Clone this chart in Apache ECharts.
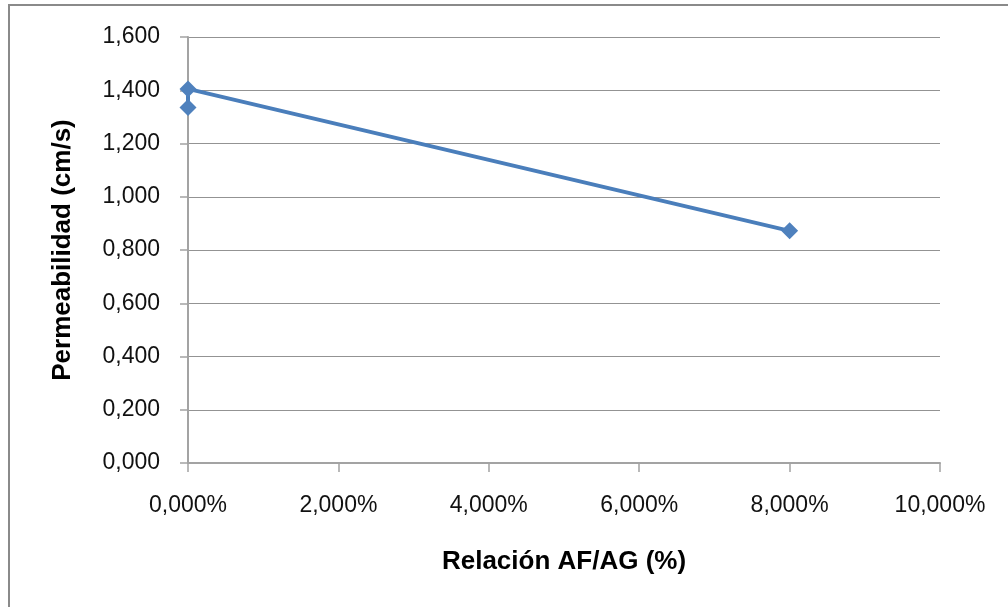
<!DOCTYPE html>
<html>
<head>
<meta charset="utf-8">
<script src="https://cdn.jsdelivr.net/npm/echarts@6/dist/echarts.min.js"></script>
<style>
html,body{margin:0;padding:0;background:#fff;}
#chart{width:1008px;height:607px;}
</style>
</head>
<body>
<div id="chart"></div>
<script>
const xValues = [0, 0, 8];
const yValues = [1.335, 1.405, 0.872];
const xTitle = 'Relación AF/AG (%)';
const yTitle = 'Permeabilidad (cm/s)';

const fmt = v => v.toFixed(3).replace('.', ',');
const chart = echarts.init(document.getElementById('chart'), null, {renderer: 'canvas'});
const gridColor = '#939393';
const axisColor = '#a3a3a3';
chart.setOption({
  animation: false,
  backgroundColor: '#fff',
  graphic: [{
    type: 'rect',
    shape: {x: 9, y: 5, width: 1010, height: 620},
    style: {fill: 'none', stroke: '#8a8a8a', lineWidth: 2},
    silent: true
  }],
  grid: {left: 188, right: 68, top: 37, bottom: 144},
  xAxis: {
    type: 'value', min: 0, max: 10, interval: 2,
    name: xTitle, nameLocation: 'middle', nameGap: 86,
    nameTextStyle: {fontFamily: 'Liberation Sans', fontWeight: 'bold', fontSize: 26, color: '#000'},
    axisLine: {show: true, lineStyle: {color: axisColor, width: 2}},
    axisTick: {show: true, length: 9, inside: false, lineStyle: {color: axisColor, width: 1.5}},
    axisLabel: {margin: 31, fontFamily: 'Liberation Sans', fontSize: 23, color: '#111',
      formatter: v => fmt(v) + '%'},
    splitLine: {show: false}
  },
  yAxis: {
    type: 'value', min: 0, max: 1.6, interval: 0.2,
    name: yTitle, nameLocation: 'middle', nameGap: 112, nameRotate: 90,
    nameTextStyle: {fontFamily: 'Liberation Sans', fontWeight: 'bold', fontSize: 26, color: '#000'},
    axisLine: {show: true, lineStyle: {color: axisColor, width: 2}},
    axisTick: {show: true, length: 8, inside: false, lineStyle: {color: axisColor, width: 1.5}},
    axisLabel: {margin: 28, fontFamily: 'Liberation Sans', fontSize: 23, color: '#111',
      formatter: v => fmt(v)},
    splitLine: {show: true, lineStyle: {color: gridColor, width: 1}}
  },
  series: [{
    type: 'line',
    data: xValues.map((x, i) => [x, yValues[i]]),
    symbol: 'diamond', symbolSize: 17, showAllSymbol: true,
    lineStyle: {color: '#4A7EBB', width: 4},
    itemStyle: {color: '#4F81BD', borderWidth: 0}
  }]
});
</script>
</body>
</html>
